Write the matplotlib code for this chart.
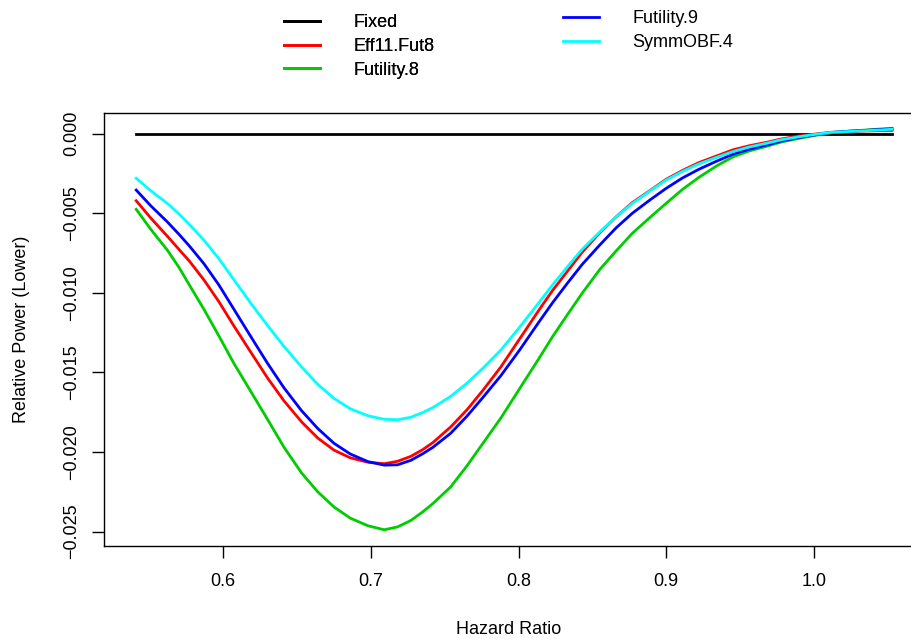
import matplotlib
matplotlib.use("Agg")
import matplotlib.pyplot as plt

plt.rcParams['font.family'] = ['Liberation Sans', 'DejaVu Sans']

hr = [0.541, 0.551, 0.562, 0.570, 0.577, 0.587, 0.597, 0.607, 0.619, 0.630,
      0.641, 0.653, 0.664, 0.675, 0.686, 0.698, 0.709, 0.718, 0.727, 0.735,
      0.742, 0.754, 0.765, 0.776, 0.788, 0.801, 0.814, 0.823, 0.833, 0.843,
      0.855, 0.866, 0.877, 0.889, 0.900, 0.911, 0.922, 0.934, 0.945, 0.956,
      0.968, 0.978, 0.990, 1.001, 1.012, 1.024, 1.035, 1.044, 1.053]

fixed = [0.0] * len(hr)
eff11_fut8 = [-0.00421, -0.00531, -0.00643, -0.00727, -0.00800, -0.00920, -0.01055,
              -0.01205, -0.01378, -0.01535, -0.01677, -0.01810, -0.01912, -0.01988,
              -0.02036, -0.02064, -0.02073, -0.02058, -0.02027, -0.01985, -0.01940,
              -0.01842, -0.01735, -0.01610, -0.01465, -0.01285, -0.01105, -0.00985,
              -0.00865, -0.00745, -0.00622, -0.00523, -0.00433, -0.00357, -0.00286,
              -0.00231, -0.00182, -0.00140, -0.00102, -0.00076, -0.00054, -0.00033,
              -0.00014, -0.00002, 0.00009, 0.00013, 0.00017, 0.00019, 0.00021]
futility8 = [-0.00475, -0.00602, -0.00730, -0.00840, -0.00950, -0.01105, -0.01270,
             -0.01440, -0.01625, -0.01795, -0.01968, -0.02131, -0.02250, -0.02345,
             -0.02415, -0.02463, -0.02488, -0.02470, -0.02430, -0.02376, -0.02323,
             -0.02219, -0.02087, -0.01943, -0.01786, -0.01597, -0.01409, -0.01275,
             -0.01138, -0.01003, -0.00853, -0.00737, -0.00626, -0.00526, -0.00437,
             -0.00350, -0.00275, -0.00203, -0.00146, -0.00109, -0.00079, -0.00052,
             -0.00029, -0.00010, 0.00006, 0.00016, 0.00023, 0.00029, 0.00034]
futility9 = [-0.00354, -0.00454, -0.00553, -0.00632, -0.00705, -0.00818, -0.00950,
             -0.01100, -0.01280, -0.01443, -0.01595, -0.01740, -0.01852, -0.01945,
             -0.02012, -0.02060, -0.02082, -0.02080, -0.02052, -0.02011, -0.01970,
             -0.01882, -0.01775, -0.01655, -0.01520, -0.01355, -0.01180, -0.01062,
             -0.00940, -0.00822, -0.00699, -0.00592, -0.00500, -0.00416, -0.00343,
             -0.00278, -0.00224, -0.00173, -0.00129, -0.00098, -0.00071, -0.00046,
             -0.00024, -0.00007, 0.00008, 0.00016, 0.00021, 0.00026, 0.00030]
symmobf4 = [-0.00280, -0.00359, -0.00437, -0.00504, -0.00570, -0.00670, -0.00785,
            -0.00915, -0.01070, -0.01205, -0.01335, -0.01465, -0.01575, -0.01663,
            -0.01728, -0.01772, -0.01794, -0.01797, -0.01781, -0.01752, -0.01720,
            -0.01650, -0.01568, -0.01472, -0.01359, -0.01212, -0.01058, -0.00950,
            -0.00837, -0.00727, -0.00617, -0.00523, -0.00438, -0.00360, -0.00291,
            -0.00237, -0.00190, -0.00149, -0.00113, -0.00084, -0.00060, -0.00038,
            -0.00019, -0.00004, 0.00009, 0.00014, 0.00019, 0.00023, 0.00028]

names = ["Fixed", "Eff11.Fut8", "Futility.8", "Futility.9", "SymmOBF.4"]
colors = ["black", "#FF0000", "#00CD00", "#0000FF", "#00FFFF"]
series = [fixed, eff11_fut8, futility8, futility9, symmobf4]

xticks = [0.6, 0.7, 0.8, 0.9, 1.0]
xticklabels = ["0.6", "0.7", "0.8", "0.9", "1.0"]
yticks = [0.0, -0.005, -0.010, -0.015, -0.020, -0.025]
yticklabels = ["0.000", "\u22120.005", "\u22120.010", "\u22120.015", "\u22120.020", "\u22120.025"]

W, H = 911, 639
fig = plt.figure(figsize=(W / 100, H / 100), dpi=100)
# box runs past the right edge, as in the cropped original
ax = fig.add_axes([104.3 / W, 1 - 546 / H, (924 - 104.3) / W, (546 - 112.7) / H])

lines = []
for name, col, ys in zip(names, colors, series):
    ln, = ax.plot(hr, ys, color=col, lw=2.0, label=name)
    lines.append(ln)

ax.set_xlim(0.5194, 1.0746)
ax.set_ylim(-0.0259, 0.00132)
ax.set_xticks(xticks)
ax.set_xticklabels(xticklabels)
ax.set_yticks(yticks)
ax.set_yticklabels(yticklabels)
for lab in ax.get_yticklabels():
    lab.set_rotation(90)
    lab.set_va("center")

ax.tick_params(axis="both", direction="out", length=8.5, width=1.0, labelsize=13)
ax.tick_params(axis="x", pad=11)
ax.tick_params(axis="y", pad=9)
for sp in ax.spines.values():
    sp.set_linewidth(1.0)

fig.text(509 / W, 1 - 629 / H, "Hazard Ratio", ha="center", va="center", fontsize=13)
fig.text(22 / W, 1 - 329 / H, "Relative Power (Lower)", ha="center", va="center",
         rotation=90, fontsize=13)

leg1 = fig.legend(lines[:3], names[:3], loc="upper left",
                  bbox_to_anchor=(284 / W, 1 - 14 / H), frameon=False, fontsize=13,
                  handlelength=2.0, handletextpad=1.83, labelspacing=0.38,
                  borderpad=0, borderaxespad=0)
leg2 = fig.legend(lines[3:], names[3:], loc="upper left",
                  bbox_to_anchor=(563 / W, 1 - 10 / H), frameon=False, fontsize=13,
                  handlelength=2.0, handletextpad=1.83, labelspacing=0.38,
                  borderpad=0, borderaxespad=0)
fig.add_artist(leg1)

fig.savefig("out.png", dpi=100)
